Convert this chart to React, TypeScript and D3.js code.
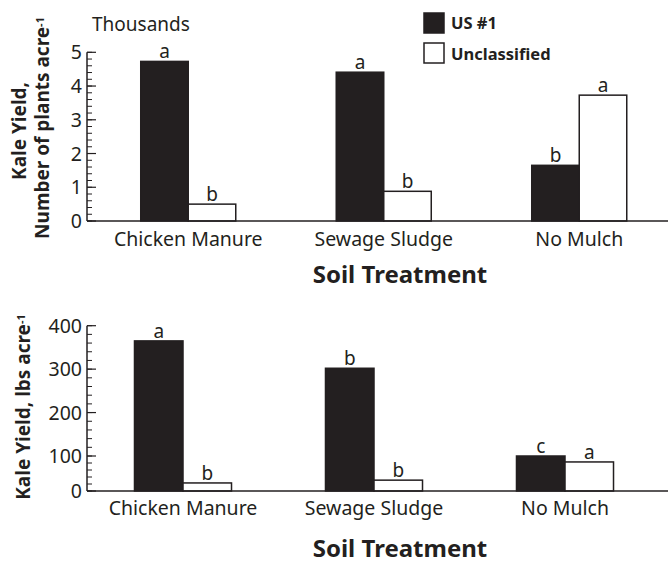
import React, { useEffect, useRef } from 'react';
import * as d3 from 'd3';

// categories and series
const categories = ['Chicken Manure', 'Sewage Sludge', 'No Mulch'];
const seriesNames = ['US #1', 'Unclassified'];

// top panel: number of plants per acre (thousands)
const plantsUS1 = [4.73, 4.41, 1.65];
const plantsUnclassified = [0.5, 0.88, 3.73];
const plantsLettersUS1 = ['a', 'a', 'b'];
const plantsLettersUnclassified = ['b', 'b', 'a'];
const plantsTicks = [0, 1, 2, 3, 4, 5];

// bottom panel: lbs per acre
const lbsUS1 = [365, 302, 100];
const lbsUnclassified = [23, 31, 83];
const lbsLettersUS1 = ['a', 'b', 'c'];
const lbsLettersUnclassified = ['b', 'b', 'a'];
const lbsTicks = [0, 100, 200, 300, 400];

const INK = '#231f20';
const FONT = '"Noto Sans", "Open Sans", sans-serif';

const App = () => {
    const svgRef = useRef(null);

    useEffect(() => {
        const svg = d3.select(svgRef.current);
        svg.selectAll('*').remove();

        const drawPanel = (opts) => {
            const { us1, uncl, lettersUs1, lettersUncl, y, xRange, padInner, ticks, minorTicks, catY, titleY } = opts;
            const g = svg.append('g');
            const base = y.range()[0];
            const top = y.range()[y.range().length - 1];

            const x = d3.scaleBand()
                .domain(categories)
                .range(xRange)
                .paddingInner(padInner)
                .paddingOuter(padInner / 2);
            const xs = d3.scaleBand().domain(seriesNames).range([0, x.bandwidth()]);

            // minor ticks
            g.selectAll('.minor')
                .data(minorTicks)
                .enter()
                .append('line')
                .attr('x1', 87).attr('x2', 92)
                .attr('y1', d => y(d)).attr('y2', d => y(d))
                .style('stroke', INK).style('stroke-width', 1);

            // major ticks
            g.selectAll('.major')
                .data(ticks)
                .enter()
                .append('line')
                .attr('x1', 87).attr('x2', 96)
                .attr('y1', d => y(d)).attr('y2', d => y(d))
                .style('stroke', INK).style('stroke-width', 1.2);

            g.selectAll('.ticklabel')
                .data(ticks)
                .enter()
                .append('text')
                .attr('x', 82)
                .attr('y', d => y(d))
                .attr('dy', '0.36em')
                .attr('text-anchor', 'end')
                .text(d => d)
                .style('font-family', FONT)
                .style('font-size', '19.5px')
                .style('fill', INK);

            // bars
            const rows = categories.map((c, i) => ({ c, i }));
            const series = [
                { name: seriesNames[0], vals: us1, letters: lettersUs1, fill: INK },
                { name: seriesNames[1], vals: uncl, letters: lettersUncl, fill: '#fff' },
            ];
            series.forEach(s => {
                g.selectAll(null)
                    .data(rows)
                    .enter()
                    .append('rect')
                    .attr('x', d => x(d.c) + xs(s.name))
                    .attr('y', d => y(s.vals[d.i]))
                    .attr('width', xs.bandwidth())
                    .attr('height', d => base - y(s.vals[d.i]))
                    .style('fill', s.fill)
                    .style('stroke', INK)
                    .style('stroke-width', 1.5);

                g.selectAll(null)
                    .data(rows)
                    .enter()
                    .append('text')
                    .attr('x', d => x(d.c) + xs(s.name) + xs.bandwidth() / 2)
                    .attr('y', d => y(s.vals[d.i]) - 3)
                    .attr('text-anchor', 'middle')
                    .text(d => s.letters[d.i])
                    .style('font-family', FONT)
                    .style('font-size', '19px')
                    .style('fill', INK);
            });

            // axes lines
            g.append('line')
                .attr('x1', 87).attr('x2', 87)
                .attr('y1', top).attr('y2', base)
                .style('stroke', INK).style('stroke-width', 1.5);
            g.append('line')
                .attr('x1', 87).attr('x2', 668)
                .attr('y1', base).attr('y2', base)
                .style('stroke', INK).style('stroke-width', 1.5);

            // category labels
            g.selectAll('.cat')
                .data(categories)
                .enter()
                .append('text')
                .attr('x', d => x(d) + x.bandwidth() / 2)
                .attr('y', catY)
                .attr('text-anchor', 'middle')
                .text(d => d)
                .style('font-family', FONT)
                .style('font-size', '19.5px')
                .style('fill', INK);

            g.append('text')
                .attr('x', 400)
                .attr('y', titleY)
                .attr('text-anchor', 'middle')
                .text('Soil Treatment')
                .style('font-family', FONT)
                .style('font-size', '24px')
                .style('font-weight', 'bold')
                .style('fill', INK);
        };

        drawPanel({
            us1: plantsUS1,
            uncl: plantsUnclassified,
            lettersUs1: plantsLettersUS1,
            lettersUncl: plantsLettersUnclassified,
            y: d3.scaleLinear().domain([0, 5]).range([221, 52.3]),
            xRange: [90.5, 677],
            padInner: 0.514,
            ticks: plantsTicks,
            minorTicks: d3.range(0, 5.001, 0.2),
            catY: 246,
            titleY: 283,
        });

        drawPanel({
            us1: lbsUS1,
            uncl: lbsUnclassified,
            lettersUs1: lbsLettersUS1,
            lettersUncl: lbsLettersUnclassified,
            y: d3.scaleLinear().domain([0, 100, 400]).range([491, 456, 325.7]),
            xRange: [87.5, 660.5],
            padInner: 0.492,
            ticks: lbsTicks,
            minorTicks: d3.range(0, 400.001, 20),
            catY: 515,
            titleY: 557,
        });

        // "Thousands" unit label
        svg.append('text')
            .attr('x', 92).attr('y', 31)
            .text('Thousands')
            .style('font-family', FONT)
            .style('font-size', '19px')
            .style('fill', INK);

        // y titles
        const yTitle = (tx, ty, main, sup) => {
            const t = svg.append('text')
                .attr('transform', `translate(${tx},${ty}) rotate(-90)`)
                .attr('text-anchor', 'middle')
                .style('font-family', FONT)
                .style('font-size', '19px')
                .style('font-weight', 'bold')
                .style('fill', INK);
            t.append('tspan').text(main);
            if (sup) {
                t.append('tspan').attr('dy', '-0.5em').style('font-size', '11px').text(sup);
            }
        };
        yTitle(26, 131, 'Kale Yield,', null);
        yTitle(49, 128, 'Number of plants acre', '-1');
        yTitle(30, 407, 'Kale Yield, lbs acre', '-1');

        // legend
        const legend = svg.append('g');
        seriesNames.forEach((name, i) => {
            legend.append('rect')
                .attr('x', 424).attr('y', 13 + i * 30)
                .attr('width', 20).attr('height', 20)
                .style('fill', i === 0 ? INK : '#fff')
                .style('stroke', INK)
                .style('stroke-width', 1.5);
            legend.append('text')
                .attr('x', 451).attr('y', 29 + i * 31)
                .text(name)
                .style('font-family', FONT)
                .style('font-size', '16.5px')
                .style('font-weight', 'bold')
                .style('fill', INK);
        });
    }, []);

    return (
        <svg
            ref={svgRef}
            width={670}
            height={563}
            style={{ position: 'absolute', left: 0, top: 0, background: '#fff' }}
        ></svg>
    );
};

export default App;
